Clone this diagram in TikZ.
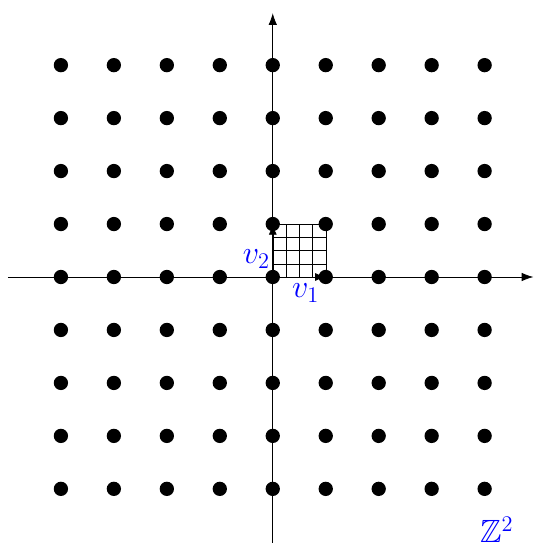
\documentclass[tikz,border=0pt]{standalone}
\usepackage{amssymb}
\usetikzlibrary{positioning,arrows.meta}

\begin{document}
\begin{tikzpicture}[
			x=1cm,y=1cm,
			dot/.style={circle,fill=black,inner sep=0pt,minimum size=0.27cm},
			axis/.style={-{Latex[length=2.2mm,width=1.6mm]},thin},
			vec/.style={-{Latex[length=2mm,width=1.5mm]},thin},
			lbl/.style={text=blue,font=\LARGE}
			]
			
			\useasboundingbox (-5.15,-5.06) rectangle (4.92,5.23);
			
			\coordinate (o) at (0,0);
			\coordinate (e1) at (1,0);
			\coordinate (e2) at (0,1);
			
			\draw[very thin] (0,0) grid[step=0.25] (1,1);
			
			\coordinate (xl) at (-5,0);
			\coordinate (xr) at (4.92,0);
			\coordinate (yb) at (0,-5.02);
			\coordinate (yt) at (0,4.98);
			\draw[axis] (xl) -- (xr);
			\draw[axis] (yb) -- (yt);
			
			\foreach \i in {-4,...,4}
				\foreach \j in {-4,...,4}
					\node[dot] (p\i\j) at (\i,\j) {};
			
			\draw[vec] (o) -- (e1);
			\draw[vec] (o) -- (e2);
			
			\node[lbl,below=0pt of e1,xshift=-0.38cm] (v1) {$v_1$};
			\node[lbl,left=-2pt of e2,yshift=-0.66cm] (v2) {$v_2$};
			\node[lbl] (zz) at (4.23,-4.77) {$\mathbb{Z}^2$};
			
		\end{tikzpicture}
\end{document}
